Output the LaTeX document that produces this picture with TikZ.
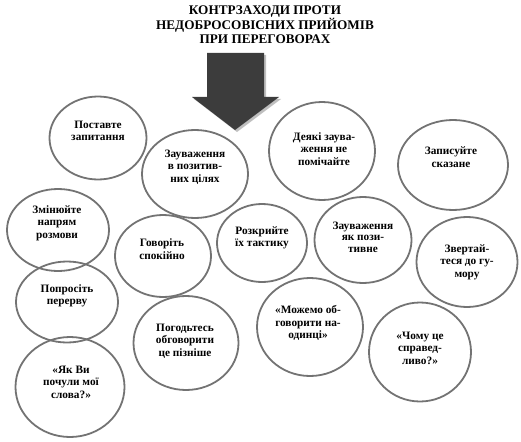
\documentclass[tikz,border=0pt]{standalone}
\usepackage{fontspec}
\setmainfont{Liberation Serif}
\usetikzlibrary{shapes.geometric}
\definecolor{edgegray}{HTML}{737373}
\definecolor{arrowgray}{HTML}{3C3C3C}
\begin{document}
\begin{tikzpicture}[x=1pt,y=-1pt,
  oval/.style={ellipse,draw=edgegray,line width=1.8pt,inner sep=0pt},
  lbl/.style={font=\fontsize{11.3}{12.5}\selectfont\bfseries,align=center,inner sep=0pt},
  ttl/.style={font=\fontsize{13.2}{14.5}\selectfont\bfseries,align=center,inner sep=0pt}]
\useasboundingbox (0,0) rectangle (521,441);
% title
\node[ttl] (title) at (265,25) {КОНТРЗАХОДИ ПРОТИ\\НЕДОБРОСОВІСНИХ ПРИЙОМІВ\\ПРИ ПЕРЕГОВОРАХ};
% arrow
\fill[black!25] (209,55) -- (266,55) -- (266,99) -- (281,99) -- (237,132) -- (194,99) -- (209,99) -- cycle;
\fill[arrowgray] (207,53) -- (264,53) -- (264,97) -- (279,97) -- (235,130) -- (192,97) -- (207,97) -- cycle;
% ellipses
\node[oval,minimum width=97pt,minimum height=83pt] (e1) at (98,138) {};
\node[oval,minimum width=106pt,minimum height=88pt] (e2) at (195,174) {};
\node[oval,minimum width=106pt,minimum height=98pt] (e3) at (322,151) {};
\node[oval,minimum width=110pt,minimum height=90pt] (e4) at (453,165) {};
\node[oval,minimum width=102pt,minimum height=82pt] (e5) at (58,230) {};
\node[oval,minimum width=96pt,minimum height=82pt] (e6) at (163,256) {};
\node[oval,minimum width=90pt,minimum height=78pt] (e7) at (262,243) {};
\node[oval,minimum width=97pt,minimum height=86pt] (e8) at (363,240) {};
\node[oval,minimum width=101pt,minimum height=90pt] (e9) at (467,262) {};
\node[oval,minimum width=102pt,minimum height=81pt] (e10) at (67,302) {};
\node[oval,minimum width=105pt,minimum height=94pt] (e11) at (186,343) {};
\node[oval,minimum width=106pt,minimum height=98pt] (e12) at (310,327) {};
\node[oval,minimum width=102pt,minimum height=99pt] (e13) at (420,352) {};
\node[oval,minimum width=109pt,minimum height=100pt] (e14) at (70,387) {};
% labels
\node[lbl] (t1) at (98,131) {Поставте\\запитання};
\node[lbl] (t2) at (195,167) {Зауваження\\в позитив-\\них цілях};
\node[lbl] (t3) at (324,149) {Деякі заува-\\ження не\\помічайте};
\node[lbl] (t4) at (451,157) {Записуйте\\сказане};
\node[lbl] (t5) at (57,223) {Змінюйте\\напрям\\розмови};
\node[lbl] (t6) at (162,249) {Говоріть\\спокійно};
\node[lbl] (t7) at (262,238) {Розкрийте\\їх тактику};
\node[lbl,font=\fontsize{11.3}{11.5}\selectfont\bfseries] (t8) at (363,237) {Зауваження\\як пози-\\тивне};
\node[lbl] (t9) at (467,262) {Звертай-\\теся до гу-\\мору};
\node[lbl] (t10) at (67,296) {Попросіть\\перерву};
\node[lbl] (t11) at (185,341) {Погодьтесь\\обговорити\\це пізніше};
\node[lbl] (t12) at (308,323) {«Можемо об-\\говорити на-\\одинці»};
\node[lbl] (t13) at (420,348) {«Чому це\\справед-\\ливо?»};
\node[lbl] (t14) at (71,382) {«Як Ви\\почули мої\\слова?»};
\end{tikzpicture}
\end{document}
